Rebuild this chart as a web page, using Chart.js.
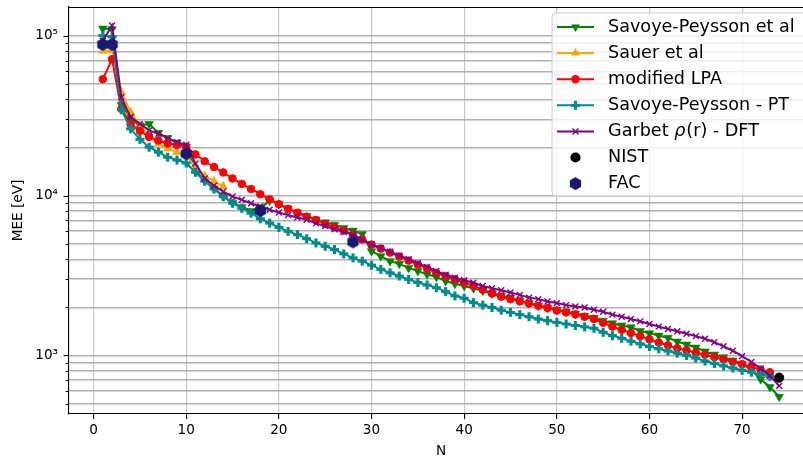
<!DOCTYPE html>
<html><head><meta charset="utf-8">
<style>html,body{margin:0;padding:0;overflow:hidden;background:#fff;width:803px;height:462px}canvas{display:block}</style>
<script src="https://cdn.jsdelivr.net/npm/chart.js@4/dist/chart.umd.min.js"></script>
</head><body><canvas id="c" width="830" height="462"></canvas>
<script>
// ---- data ----
const N = [1,2,3,4,5,6,7,8,9,10,11,12,13,14,15,16,17,18,19,20,21,22,23,24,25,26,27,28,29,30,31,32,33,34,35,36,37,38,39,40,41,42,43,44,45,46,47,48,49,50,51,52,53,54,55,56,57,58,59,60,61,62,63,64,65,66,67,68,69,70,71,72,73,74];
const savoyePeysson = [111000,110000,37000,30500,27500,28100,24700,22900,21500,20300,
  14300,12400,11100,9900,9000,8450,8000,8300,9300,8850,
  8300,7850,7450,7100,6800,6580,6260,6040,5755,4490,
  4180,3890,3740,3530,3370,3215,3097,2924,2812,2720,
  2630,2535,2440,2360,2300,2200,2125,2045,1980,1933,
  1877,1830,1770,1720,1650,1590,1540,1500,1420,1375,
  1331,1290,1220,1170,1120,1060,1013,975,930,887,
  807,710,635,551];
const sauer = [80400,81000,44300,33300,27400,23800,21100,19700,18700,17900,15000,13300,12300,11400];
const modifiedLPA = [53500,71300,34900,28000,25400,23300,22100,21200,20700,20200,
  18100,16400,15100,13960,12800,11830,11000,10200,9480,8830,
  8270,7810,7380,7030,6650,6330,6040,5700,5310,4940,
  4660,4400,4150,3920,3700,3490,3290,3143,2995,2855,
  2725,2580,2440,2330,2250,2180,2110,2045,1980,1910,
  1860,1805,1745,1690,1600,1515,1445,1380,1320,1260,
  1205,1155,1110,1075,1040,1010,975,945,910,880,
  850,815,785];
const savoyePT = [100500,98500,34500,26200,22500,20100,18700,17400,16700,16000,
  14000,12300,11000,9860,8960,8340,7760,7160,6730,6330,
  5975,5700,5380,5060,4820,4600,4320,4080,3890,3670,
  3455,3290,3140,2990,2860,2760,2655,2505,2360,2280,
  2140,2065,1995,1920,1860,1800,1747,1690,1650,1610,
  1573,1540,1510,1479,1396,1331,1280,1227,1182,1138,
  1101,1065,1033,1000,962,922,890,860,835,807,
  785,760,740];
const garbet = [93000,116000,41200,31000,28100,25600,24400,22900,21600,20800,
  15900,12800,11530,10600,9860,9400,8960,8540,8150,7840,
  7550,7300,7060,6700,6450,6150,5920,5700,5310,4940,
  4700,4450,4220,4000,3780,3580,3370,3200,3060,2950,
  2850,2720,2630,2560,2474,2393,2300,2250,2174,2125,
  2065,2025,1995,1930,1877,1800,1747,1690,1634,1573,
  1514,1465,1417,1365,1320,1271,1210,1140,1070,990,
  910,830,745,645];
const nistN = [74];
const nist = [726];
const facN = [1,2,10,18,28];
const fac = [88300,88300,18300,8040,5130];
const xTicks = [0,10,20,30,40,50,60,70];
const yMajor = [1000,10000,100000];
const yLabels = {1000:'10\u00B3',10000:'10\u2074',100000:'10\u2075'};
const labels = ['Savoye-Peysson et al','Sauer et al','modified LPA','Savoye-Peysson - PT','Garbet \u03C1(r) - DFT','NIST','FAC'];

// ---- styling ----
const FONT = "'DejaVu Sans', sans-serif";
const C = {green:'#008000', orange:'#FFA500', red:'#FF0000', teal:'#008B8B', purple:'#800080', black:'#000000', navy:'#191970'};

function pts(xs, ys){ return ys.map((v,i)=>({x:xs[i], y:v})); }
function makeHex(r, color){
  const s = Math.ceil(2*r+2); const c=document.createElement('canvas'); c.width=s; c.height=s;
  const g=c.getContext('2d'); g.fillStyle=color; g.beginPath();
  for(let k=0;k<6;k++){ const a=Math.PI/2+k*Math.PI/3; const px=s/2+r*Math.cos(a), py=s/2-r*Math.sin(a); if(k) g.lineTo(px,py); else g.moveTo(px,py); }
  g.closePath(); g.fill(); return c;
}
function makePlus(size, arm, color){
  const s = Math.ceil(size+2); const c=document.createElement('canvas'); c.width=s; c.height=s;
  const g=c.getContext('2d'); g.fillStyle=color; const m=s/2, h=size/2, a=arm/2;
  g.beginPath();
  g.moveTo(m-a,m-h); g.lineTo(m+a,m-h); g.lineTo(m+a,m-a); g.lineTo(m+h,m-a); g.lineTo(m+h,m+a); g.lineTo(m+a,m+a);
  g.lineTo(m+a,m+h); g.lineTo(m-a,m+h); g.lineTo(m-a,m+a); g.lineTo(m-h,m+a); g.lineTo(m-h,m-a); g.lineTo(m-a,m-a);
  g.closePath(); g.fill(); return c;
}
const hexImg = makeHex(6.5, C.navy);
const plusImg = makePlus(9, 3.2, C.teal);

const ds = [
  {label:labels[0], data:pts(N,savoyePeysson), borderColor:C.green, backgroundColor:C.green, borderWidth:2, pointStyle:'triangle', rotation:180, pointRadius:5, pointBorderWidth:0.5, order:7},
  {label:labels[1], data:pts(N,sauer), borderColor:C.orange, backgroundColor:C.orange, borderWidth:2, pointStyle:'triangle', rotation:0, pointRadius:5, pointBorderWidth:0.5, order:6},
  {label:labels[2], data:pts(N,modifiedLPA), borderColor:C.red, backgroundColor:C.red, borderWidth:2, pointStyle:'circle', pointRadius:3.8, pointBorderWidth:1, order:5},
  {label:labels[3], data:pts(N,savoyePT), borderColor:C.teal, backgroundColor:C.teal, borderWidth:2, pointStyle:plusImg, pointRadius:5, order:4},
  {label:labels[4], data:pts(N,garbet), borderColor:C.purple, backgroundColor:C.purple, borderWidth:2, pointStyle:'crossRot', pointRadius:4.2, pointBorderWidth:1.4, order:3},
  {label:labels[5], data:pts(nistN,nist), borderColor:C.black, backgroundColor:C.black, showLine:false, pointStyle:'circle', pointRadius:4.6, pointBorderWidth:1, order:2},
  {label:labels[6], data:pts(facN,fac), borderColor:C.navy, backgroundColor:C.navy, showLine:false, pointStyle:hexImg, pointRadius:6, order:1}
];

function drawMarker(g, kind, x, y){
  g.save();
  if(kind==='tridown' || kind==='triup'){
    const r=5, dir = kind==='tridown'? 1 : -1;
    g.beginPath();
    g.moveTo(x, y + dir*r);
    g.lineTo(x - r*0.866, y - dir*r*0.5);
    g.lineTo(x + r*0.866, y - dir*r*0.5);
    g.closePath(); g.fill();
  } else if(kind==='circle'){
    g.beginPath(); g.arc(x,y,4.2,0,Math.PI*2); g.fill();
  } else if(kind==='bigcircle'){
    g.beginPath(); g.arc(x,y,5.1,0,Math.PI*2); g.fill();
  } else if(kind==='plus'){
    g.drawImage(plusImg, x-plusImg.width/2, y-plusImg.height/2);
  } else if(kind==='x'){
    const d=3; g.lineWidth=1.4; g.beginPath(); g.moveTo(x-d,y-d); g.lineTo(x+d,y+d); g.moveTo(x-d,y+d); g.lineTo(x+d,y-d); g.stroke();
  } else if(kind==='hex'){
    g.drawImage(hexImg, x-hexImg.width/2, y-hexImg.height/2);
  }
  g.restore();
}

const overlay = {
  id:'overlay',
  afterDraw(chart){
    const g = chart.ctx, a = chart.chartArea, ys = chart.scales.y;
    g.save();
    g.strokeStyle='#000'; g.lineWidth=1.1;
    g.beginPath(); g.moveTo(a.left, a.top+0.5); g.lineTo(a.right, a.top+0.5); g.stroke();
    ys.ticks.forEach(t=>{
      const py = Math.round(ys.getPixelForValue(t.value))+0.5;
      const len = yMajor.includes(t.value) ? 5.5 : 3.3;
      g.beginPath(); g.moveTo(a.left-len, py); g.lineTo(a.left, py); g.stroke();
    });
    g.fillStyle='#000'; g.font = '13.6px '+FONT; g.textAlign='center'; g.textBaseline='middle';
    g.fillText('N', (a.left+a.right)/2, 451);
    g.translate(18, (a.top+a.bottom)/2); g.rotate(-Math.PI/2);
    g.fillText('MEE [eV]', 0, 0);
    g.restore();

    // legend
    g.save();
    const lx=552, ly=13, lw=260, lh=183, rr=4;
    g.beginPath();
    g.moveTo(lx+rr,ly); g.lineTo(lx+lw-rr,ly); g.arcTo(lx+lw,ly,lx+lw,ly+rr,rr);
    g.lineTo(lx+lw,ly+lh-rr); g.arcTo(lx+lw,ly+lh,lx+lw-rr,ly+lh,rr);
    g.lineTo(lx+rr,ly+lh); g.arcTo(lx,ly+lh,lx,ly+lh-rr,rr);
    g.lineTo(lx,ly+rr); g.arcTo(lx,ly,lx+rr,ly,rr); g.closePath();
    g.fillStyle='rgba(255,255,255,0.8)'; g.fill();
    g.strokeStyle='#cccccc'; g.lineWidth=1; g.stroke();
    const items = [
      {c:C.green, m:'tridown', line:true},
      {c:C.orange, m:'triup', line:true},
      {c:C.red, m:'circle', line:true},
      {c:C.teal, m:'plus', line:true},
      {c:C.purple, m:'x', line:true},
      {c:C.black, m:'bigcircle', line:false},
      {c:C.navy, m:'hex', line:false}
    ];
    const F = '17.6px '+FONT;
    items.forEach((it,i)=>{
      const y = 27 + i*26.1;
      g.strokeStyle=it.c; g.fillStyle=it.c;
      if(it.line){ g.lineWidth=2; g.beginPath(); g.moveTo(557,y); g.lineTo(594,y); g.stroke(); }
      drawMarker(g, it.m, 575.5, y);
      g.fillStyle='#000'; g.textAlign='left'; g.textBaseline='middle'; g.font=F;
      if(i===4){
        let x=608;
        const p1='Garbet '; g.fillText(p1,x,y); x+=g.measureText(p1).width;
        g.font='italic '+F; g.fillText('\u03C1',x,y); x+=g.measureText('\u03C1').width+1;
        g.font=F; g.fillText('(r) - DFT',x,y);
      } else {
        g.fillText(labels[i], 608, y);
      }
    });
    g.restore();
  }
};

new Chart(document.getElementById('c'), {
  type:'line',
  data:{datasets:ds},
  plugins:[overlay],
  options:{
    responsive:false, animation:false, devicePixelRatio:1,
    layout:{padding:{top:4, right:17, left:0, bottom:0}},
    plugins:{legend:{display:false}, tooltip:{enabled:false}},
    elements:{line:{tension:0}},
    scales:{
      x:{
        type:'linear', min:-2.65, max:77.65,
        afterBuildTicks(s){ s.ticks = xTicks.map(v=>({value:v})); },
        afterFit(s){ s.height = 48; s.paddingLeft=0; s.paddingRight=0; },
        grid:{color:'#c8c8c8', lineWidth:1.2, drawTicks:true, tickLength:5, tickColor:'#000', tickWidth:1.1},
        border:{color:'#000', width:1.1},
        ticks:{font:{family:FONT, size:13.6}, color:'#000', padding:3, maxRotation:0, autoSkip:false}
      },
      y:{
        type:'logarithmic', min:430, max:151400,
        afterBuildTicks(s){
          const t=[];
          [100,1000,10000,100000].forEach(p=>{ for(let k=1;k<10;k++){ const v=k*p; if(v>=430 && v<=151400) t.push({value:v}); } });
          s.ticks = t;
        },
        afterFit(s){ s.width = 69; s.paddingTop=0; s.paddingBottom=0; },
        grid:{color:'#b0b0b0', lineWidth:1.4, drawTicks:false},
        border:{color:'#000', width:1.1},
        ticks:{font:{family:FONT, size:13.6}, color:'#000', padding:11, autoSkip:false,
          callback:(v)=> yLabels[v] || ''}
      }
    }
  }
});
</script>
</body></html>
